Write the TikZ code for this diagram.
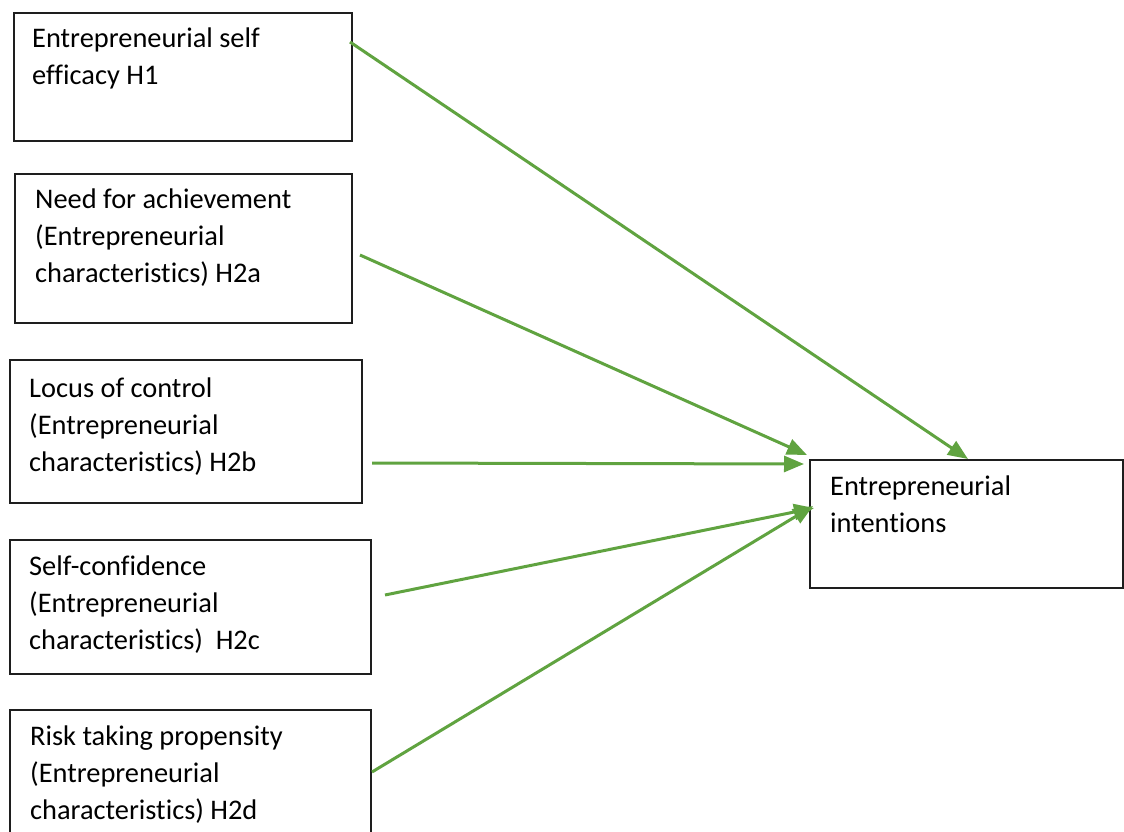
\documentclass[tikz,border=0pt]{standalone}
\usepackage{fontspec}
\setmainfont[Ligatures={NoCommon}]{Carlito}
\usetikzlibrary{arrows.meta}
\definecolor{arrowgreen}{RGB}{96,163,64}
\definecolor{boxline}{RGB}{30,30,30}
\begin{document}
\begin{tikzpicture}[x=1pt,y=-1pt,
  box/.style={draw=boxline, line width=1.8pt, rectangle, inner sep=0pt, anchor=north west},
  boxtext/.style={anchor=base west, align=left, inner sep=0pt, font=\fontsize{28.4}{37}\selectfont, text=black},
  link/.style={draw=arrowgreen, line width=3pt, -{Triangle[length=20pt,width=16pt]}}]
\useasboundingbox (0,0) rectangle (1124,832);
\clip (0,0) rectangle (1124,832);
% boxes
\node[box, minimum width=338pt, minimum height=128pt] (b1) at (13,12) {};
\node[box, minimum width=337pt, minimum height=149pt] (b2) at (14,173) {};
\node[box, minimum width=352pt, minimum height=143pt] (b3) at (9,359) {};
\node[box, minimum width=361pt, minimum height=134pt] (b4) at (9,539) {};
\node[box, minimum width=361pt, minimum height=150pt] (b5) at (9,709) {};
\node[box, minimum width=313pt, minimum height=128pt] (ei) at (809,459) {};
% texts (anchored at the baseline of the last line)
\node[boxtext] (t1) at (32,85) {Entrepreneurial self\\efficacy H1};
\node[boxtext] (t2) at (35,282) {Need for achievement\\(Entrepreneurial\\characteristics) H2a};
\node[boxtext] (t3) at (29,471) {Locus of control\\(Entrepreneurial\\characteristics) H2b};
\node[boxtext] (t4) at (29,649) {Self-confidence\\(Entrepreneurial\\characteristics)\ \ H2c};
\node[boxtext] (t5) at (30,819) {Risk taking propensity\\(Entrepreneurial\\characteristics) H2d};
\node[boxtext] (t6) at (830,532) {Entrepreneurial\\intentions};
% connector end points
\coordinate (s1) at (350,42);  \coordinate (e1) at (968,459);
\coordinate (s2) at (360,255); \coordinate (e2) at (807,455);
\coordinate (s3) at (372,463); \coordinate (e3) at (804,464);
\coordinate (s4) at (385,595); \coordinate (e4) at (814,508);
\coordinate (s5) at (372,772); \coordinate (e5) at (813,506);
\draw[link] (s1) -- (e1);
\draw[link] (s2) -- (e2);
\draw[link] (s3) -- (e3);
\draw[link] (s4) -- (e4);
\draw[link] (s5) -- (e5);
\end{tikzpicture}
\end{document}
